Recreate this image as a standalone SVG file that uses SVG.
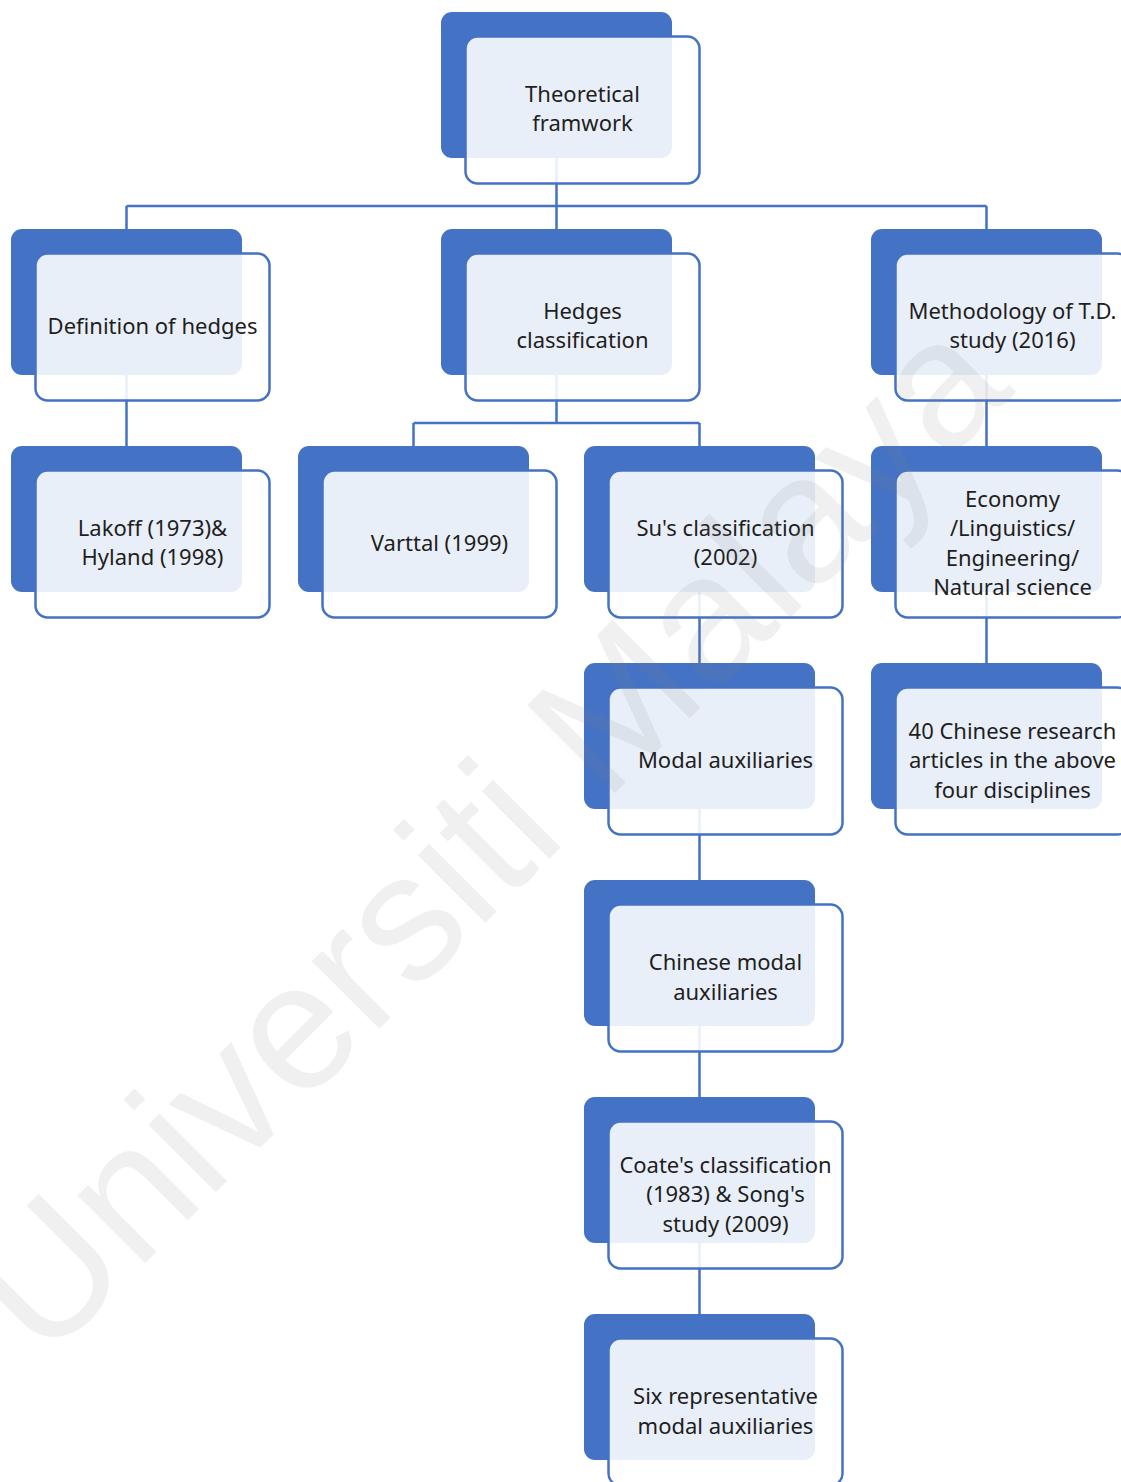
<svg xmlns="http://www.w3.org/2000/svg" width="1121" height="1482" viewBox="0 0 1121 1482">
<style>
.back{fill:#4472C4}
.front{fill:#FFFFFF;fill-opacity:0.885;stroke:#4472C4;stroke-width:2.5}
.lbl{font-family:"Noto Sans","DejaVu Sans",sans-serif;font-size:22px;fill:#1e1e1e;text-anchor:middle}
.conn{stroke:#4472C4;stroke-width:2.5;fill:none}
.wm{font-family:"Liberation Sans",Arial,sans-serif;font-size:180.6px;fill:#808080;fill-opacity:0.12}
</style>
<rect width="1121" height="1482" fill="#FFFFFF"/>
<g id="connectors" class="conn">
<path d="M556.5 158V206M126.5 206H986.5M126.5 206V229M556.5 206V229M986.5 206V229"/>
<path d="M126.5 375V446"/>
<path d="M556.5 375V423M413.5 423H699.5M413.5 423V446M699.5 423V446"/>
<path d="M986.5 375V446M986.5 592V663"/>
<path d="M699.5 592V663M699.5 809V880M699.5 1026V1097M699.5 1243V1314"/>
</g>
<g id="n-theoretical"><rect class="back" x="441" y="12" width="231" height="146" rx="11"/><rect class="front" x="465.5" y="36.5" width="234" height="147" rx="12"/><text class="lbl" x="582.5"><tspan x="582.5" y="102">Theoretical</tspan><tspan x="582.5" y="131">framwork</tspan></text></g>
<g id="n-definition"><rect class="back" x="11" y="229" width="231" height="146" rx="11"/><rect class="front" x="35.5" y="253.5" width="234" height="147" rx="12"/><text class="lbl" x="152.5" y="334">Definition of hedges</text></g>
<g id="n-hedges"><rect class="back" x="441" y="229" width="231" height="146" rx="11"/><rect class="front" x="465.5" y="253.5" width="234" height="147" rx="12"/><text class="lbl"><tspan x="582.5" y="319">Hedges</tspan><tspan x="582.5" y="348">classification</tspan></text></g>
<g id="n-methodology"><rect class="back" x="871" y="229" width="231" height="146" rx="11"/><rect class="front" x="895.5" y="253.5" width="234" height="147" rx="12"/><text class="lbl"><tspan x="1012.5" y="319">Methodology of T.D.</tspan><tspan x="1012.5" y="348">study (2016)</tspan></text></g>
<g id="n-lakoff"><rect class="back" x="11" y="446" width="231" height="146" rx="11"/><rect class="front" x="35.5" y="470.5" width="234" height="147" rx="12"/><text class="lbl"><tspan x="152.5" y="536">Lakoff (1973)&amp;</tspan><tspan x="152.5" y="565">Hyland (1998)</tspan></text></g>
<g id="n-varttal"><rect class="back" x="298" y="446" width="231" height="146" rx="11"/><rect class="front" x="322.5" y="470.5" width="234" height="147" rx="12"/><text class="lbl" x="439.5" y="551">Varttal (1999)</text></g>
<g id="n-su"><rect class="back" x="584" y="446" width="231" height="146" rx="11"/><rect class="front" x="608.5" y="470.5" width="234" height="147" rx="12"/><text class="lbl"><tspan x="725.5" y="536">Su's classification</tspan><tspan x="725.5" y="565">(2002)</tspan></text></g>
<g id="n-economy"><rect class="back" x="871" y="446" width="231" height="146" rx="11"/><rect class="front" x="895.5" y="470.5" width="234" height="147" rx="12"/><text class="lbl"><tspan x="1012.5" y="507">Economy</tspan><tspan x="1012.5" y="536">/Linguistics/</tspan><tspan x="1012.5" y="566">Engineering/</tspan><tspan x="1012.5" y="595">Natural science</tspan></text></g>
<g id="n-modal"><rect class="back" x="584" y="663" width="231" height="146" rx="11"/><rect class="front" x="608.5" y="687.5" width="234" height="147" rx="12"/><text class="lbl" x="725.5" y="768">Modal auxiliaries</text></g>
<g id="n-forty"><rect class="back" x="871" y="663" width="231" height="146" rx="11"/><rect class="front" x="895.5" y="687.5" width="234" height="147" rx="12"/><text class="lbl"><tspan x="1012.5" y="739">40 Chinese research</tspan><tspan x="1012.5" y="768">articles in the above</tspan><tspan x="1012.5" y="798">four disciplines</tspan></text></g>
<g id="n-chinese-modal"><rect class="back" x="584" y="880" width="231" height="146" rx="11"/><rect class="front" x="608.5" y="904.5" width="234" height="147" rx="12"/><text class="lbl"><tspan x="725.5" y="970">Chinese modal</tspan><tspan x="725.5" y="1000">auxiliaries</tspan></text></g>
<g id="n-coate"><rect class="back" x="584" y="1097" width="231" height="146" rx="11"/><rect class="front" x="608.5" y="1121.5" width="234" height="147" rx="12"/><text class="lbl"><tspan x="725.5" y="1173">Coate's classification</tspan><tspan x="725.5" y="1202">(1983) &amp; Song's</tspan><tspan x="725.5" y="1232">study (2009)</tspan></text></g>
<g id="n-six"><rect class="back" x="584" y="1314" width="231" height="146" rx="11"/><rect class="front" x="608.5" y="1338.5" width="234" height="147" rx="12"/><text class="lbl"><tspan x="725.5" y="1404">Six representative</tspan><tspan x="725.5" y="1434">modal auxiliaries</tspan></text></g>
<text class="wm" transform="translate(44 1364) rotate(-45)">Universiti Malaya</text>
</svg>
